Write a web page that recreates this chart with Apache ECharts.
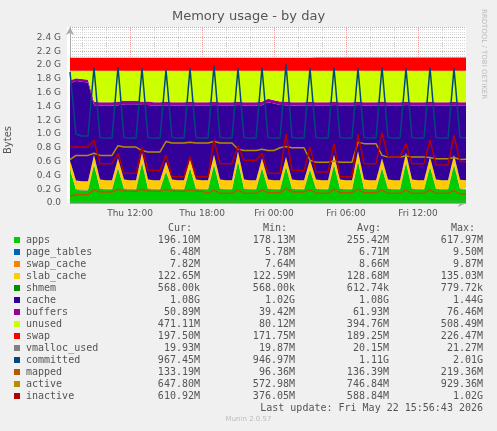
<!DOCTYPE html>
<html>
<head>
<meta charset="utf-8">
<script src="https://cdn.jsdelivr.net/npm/echarts@6/dist/echarts.min.js"></script>
<style>
html,body{margin:0;padding:0;background:#f0f0f0;}
#main{width:497px;height:431px;}
</style>
</head>
<body>
<div id="main"></div>
<script>
// hours since Thu 00:00, 30 min steps, Thu 07:00 .. Fri 16:00
var hours = [];
for (var i = 0; i < 67; i++) hours.push(7 + i * 0.5);

// values in G
var apps = [0.48,0.19,0.18,0.18, 0.55,0.2,0.19,0.19, 0.5,0.2,0.19,0.19, 0.58,0.2,0.19,0.19,
  0.45,0.2,0.19,0.19, 0.5,0.2,0.19,0.19, 0.55,0.2,0.19,0.19, 0.6,0.2,0.19,0.19,
  0.5,0.2,0.19,0.19, 0.52,0.2,0.19,0.19, 0.48,0.2,0.19,0.19, 0.55,0.2,0.19,0.19,
  0.6,0.2,0.19,0.19, 0.5,0.2,0.19,0.19, 0.58,0.2,0.19,0.19, 0.52,0.2,0.19,0.19, 0.55,0.2,0.196];
var pageTables = [0.0056,0.0058,0.006,0.006, 0.008,0.0064,0.0063,0.0063, 0.008,0.0064,0.0063,0.0063, 0.009,0.0064,0.0063,0.0063,
  0.008,0.0064,0.0063,0.0063, 0.008,0.0064,0.0063,0.0063, 0.009,0.0064,0.0063,0.0063, 0.009,0.0064,0.0063,0.0063,
  0.008,0.0064,0.0063,0.0063, 0.008,0.0064,0.0063,0.0063, 0.008,0.0064,0.0063,0.0063, 0.009,0.0064,0.0063,0.0063,
  0.009,0.0064,0.0063,0.0063, 0.008,0.0064,0.0063,0.0063, 0.009,0.0064,0.0063,0.0063, 0.008,0.0064,0.0063,0.0063, 0.009,0.0064,0.0063];
var swapCache = [0.0085,0.0085,0.0085,0.0085, 0.0085,0.0085,0.0085,0.0085, 0.0085,0.0085,0.0085,0.0085, 0.0085,0.0085,0.0085,0.0085,
  0.0085,0.0085,0.0085,0.0085, 0.0085,0.0085,0.0085,0.0085, 0.0085,0.0085,0.0085,0.0085, 0.0085,0.0085,0.0085,0.0085,
  0.0085,0.0085,0.0085,0.0085, 0.0085,0.0085,0.0085,0.0085, 0.0085,0.0085,0.0085,0.0085, 0.0085,0.0085,0.0085,0.0085,
  0.0085,0.0085,0.0085,0.0085, 0.0085,0.0085,0.0085,0.0085, 0.0085,0.0085,0.0085,0.0085, 0.0076,0.0076,0.0076,0.0076, 0.0076,0.0076,0.0076];
var slabCache = [0.12,0.121,0.121,0.121, 0.13,0.126,0.125,0.125, 0.13,0.126,0.125,0.125, 0.13,0.126,0.125,0.125,
  0.13,0.126,0.125,0.125, 0.13,0.126,0.125,0.125, 0.13,0.126,0.125,0.125, 0.13,0.126,0.125,0.125,
  0.13,0.126,0.125,0.125, 0.13,0.126,0.125,0.125, 0.13,0.126,0.125,0.125, 0.13,0.126,0.125,0.125,
  0.13,0.126,0.125,0.125, 0.13,0.126,0.125,0.125, 0.13,0.126,0.125,0.125, 0.13,0.126,0.125,0.125, 0.13,0.124,0.12];
var shmem = [0.0006,0.0006,0.0006,0.0006, 0.0006,0.0006,0.0006,0.0006, 0.0006,0.0006,0.0006,0.0006, 0.0006,0.0006,0.0006,0.0006,
  0.0006,0.0006,0.0006,0.0006, 0.0006,0.0006,0.0006,0.0006, 0.0006,0.0006,0.0006,0.0006, 0.0006,0.0006,0.0006,0.0006,
  0.0006,0.0006,0.0006,0.0006, 0.0006,0.0006,0.0006,0.0006, 0.0006,0.0006,0.0006,0.0006, 0.0006,0.0006,0.0006,0.0006,
  0.0006,0.0006,0.0006,0.0006, 0.0006,0.0006,0.0006,0.0006, 0.0006,0.0006,0.0006,0.0006, 0.0006,0.0006,0.0006,0.0006, 0.0006,0.0006,0.0006];
var cache = [1.12,1.44,1.44,1.43, 0.72,1.07,1.08,1.08, 0.77,1.09,1.1,1.1, 0.69,1.08,1.08,1.08,
  0.82,1.07,1.08,1.08, 0.77,1.07,1.08,1.08, 0.72,1.07,1.08,1.08, 0.67,1.07,1.08,1.08,
  0.77,1.12,1.11,1.09, 0.75,1.07,1.08,1.08, 0.79,1.07,1.08,1.08, 0.72,1.07,1.08,1.08,
  0.67,1.07,1.08,1.08, 0.77,1.07,1.08,1.08, 0.69,1.07,1.08,1.08, 0.75,1.07,1.08,1.08, 0.72,1.07,1.08];
var buffers = [0.04,0.04,0.04,0.04, 0.05,0.05,0.05,0.05, 0.05,0.05,0.05,0.05, 0.05,0.05,0.05,0.05,
  0.05,0.05,0.05,0.05, 0.05,0.05,0.05,0.05, 0.05,0.05,0.05,0.05, 0.05,0.05,0.05,0.05,
  0.05,0.05,0.05,0.05, 0.05,0.05,0.05,0.05, 0.05,0.05,0.05,0.05, 0.05,0.05,0.05,0.05,
  0.05,0.05,0.05,0.05, 0.05,0.05,0.05,0.05, 0.05,0.05,0.05,0.05, 0.05,0.05,0.05,0.05, 0.05,0.05,0.05];
var swap = [0.19,0.19,0.19,0.19, 0.19,0.19,0.19,0.19, 0.19,0.19,0.19,0.19, 0.19,0.19,0.19,0.19,
  0.19,0.19,0.19,0.19, 0.19,0.19,0.19,0.19, 0.19,0.19,0.19,0.19, 0.19,0.19,0.19,0.19,
  0.19,0.19,0.19,0.19, 0.19,0.19,0.19,0.19, 0.19,0.193,0.193,0.193, 0.193,0.193,0.193,0.193,
  0.193,0.193,0.193,0.193, 0.193,0.193,0.193,0.193, 0.193,0.193,0.193,0.193, 0.193,0.193,0.193,0.193, 0.193,0.193,0.193];
var totalRam = 1.916;
var vmallocUsed = [0.019,0.019,0.019,0.019, 0.019,0.02,0.02,0.02, 0.02,0.02,0.02,0.02, 0.02,0.02,0.02,0.02,
  0.02,0.02,0.02,0.02, 0.02,0.02,0.02,0.02, 0.02,0.02,0.02,0.02, 0.02,0.02,0.02,0.02,
  0.02,0.02,0.02,0.02, 0.02,0.02,0.02,0.02, 0.02,0.02,0.02,0.02, 0.02,0.02,0.02,0.02,
  0.02,0.02,0.02,0.02, 0.02,0.02,0.02,0.02, 0.02,0.02,0.02,0.02, 0.02,0.02,0.02,0.02, 0.02,0.02,0.02];
var committed = [1.9,1.0,0.97,0.97, 1.96,0.95,0.94,0.94, 1.97,0.95,0.94,0.94, 1.95,0.95,0.94,0.94,
  1.93,0.95,0.94,0.94, 1.95,0.95,0.94,0.94, 1.99,0.95,0.94,0.94, 1.95,0.95,0.94,0.94,
  1.96,0.95,0.94,0.94, 2.01,0.95,0.94,0.94, 1.95,0.95,0.94,0.94, 1.96,0.95,0.94,0.94,
  1.95,0.95,0.94,0.94, 1.97,0.95,0.94,0.94, 1.95,0.95,0.94,0.94, 1.96,0.95,0.94,0.94, 1.95,0.95,0.945];
var mapped = [0.1,0.12,0.12,0.12, 0.19,0.16,0.16,0.16, 0.2,0.17,0.17,0.17, 0.2,0.17,0.17,0.17,
  0.2,0.17,0.17,0.17, 0.19,0.17,0.17,0.14, 0.19,0.14,0.14,0.14, 0.19,0.14,0.14,0.14,
  0.19,0.15,0.15,0.15, 0.21,0.16,0.16,0.16, 0.19,0.15,0.14,0.14, 0.2,0.15,0.15,0.15,
  0.2,0.15,0.15,0.15, 0.19,0.14,0.14,0.14, 0.19,0.14,0.14,0.14, 0.19,0.14,0.14,0.14, 0.18,0.13,0.13];
var active = [0.63,0.69,0.69,0.69, 0.72,0.69,0.69,0.69, 0.83,0.81,0.81,0.81, 0.76,0.74,0.74,0.74,
  0.89,0.87,0.87,0.87, 0.88,0.87,0.87,0.87, 0.89,0.87,0.87,0.87, 0.78,0.76,0.76,0.76,
  0.78,0.76,0.76,0.8, 0.82,0.8,0.8,0.8, 0.62,0.59,0.59,0.59, 0.61,0.59,0.59,0.59,
  0.88,0.86,0.86,0.86, 0.69,0.665,0.665,0.665, 0.68,0.665,0.665,0.665, 0.66,0.64,0.64,0.64, 0.66,0.63,0.633];
var inactive = [0.81,0.81,0.81,0.81, 0.91,0.57,0.57,0.57, 0.72,0.43,0.43,0.43, 0.81,0.47,0.47,0.47,
  0.69,0.38,0.38,0.38, 0.67,0.38,0.38,0.38, 0.91,0.57,0.57,0.57, 0.83,0.62,0.62,0.62,
  0.72,0.43,0.43,0.43, 1.0,0.47,0.47,0.47, 0.81,0.45,0.45,0.45, 0.86,0.38,0.38,0.38,
  1.0,0.57,0.57,0.57, 1.02,0.665,0.665,0.665, 0.86,0.57,0.57,0.57, 0.91,0.55,0.55,0.55, 0.98,0.6,0.597];

// unused = RAM minus everything stacked below it
var unused = hours.map(function (h, i) {
  return +(totalRam - apps[i] - pageTables[i] - swapCache[i] - slabCache[i] - shmem[i] - cache[i] - buffers[i]).toFixed(4);
});

var legendRows = [
  ['apps', '#00cc00', '196.10M', '178.13M', '255.42M', '617.97M'],
  ['page_tables', '#0066b3', '6.48M', '5.78M', '6.71M', '9.50M'],
  ['swap_cache', '#ff8000', '7.82M', '7.64M', '8.66M', '9.87M'],
  ['slab_cache', '#ffcc00', '122.65M', '122.59M', '128.68M', '135.03M'],
  ['shmem', '#008f00', '568.00k', '568.00k', '612.74k', '779.72k'],
  ['cache', '#330099', '1.08G', '1.02G', '1.08G', '1.44G'],
  ['buffers', '#990099', '50.89M', '39.42M', '61.93M', '76.46M'],
  ['unused', '#ccff00', '471.11M', '80.12M', '394.76M', '508.49M'],
  ['swap', '#ff0000', '197.50M', '171.75M', '189.25M', '226.47M'],
  ['vmalloc_used', '#808080', '19.93M', '19.87M', '20.15M', '21.27M'],
  ['committed', '#00487d', '967.45M', '946.97M', '1.11G', '2.01G'],
  ['mapped', '#b35a00', '133.19M', '96.36M', '136.39M', '219.36M'],
  ['active', '#b38f00', '647.80M', '572.98M', '746.84M', '929.36M'],
  ['inactive', '#b30000', '610.92M', '376.05M', '588.84M', '1.02G']
];

var stackData = [apps, pageTables, swapCache, slabCache, shmem, cache, buffers, unused, swap];
var lineData = [vmallocUsed, committed, mapped, active, inactive];
var gridHours = [8, 10, 12, 14, 16, 18, 20, 22, 24, 26, 28, 30, 32, 34, 36, 38];
var labelHours = [12, 18, 24, 30, 36];

var series = [];
// vertical grid lines, under the areas
series.push({
  type: 'line', data: [], z: 1,
  markLine: {
    silent: true, symbol: 'none', label: { show: false }, z: 1,
    data: gridHours.map(function (h) {
      return { xAxis: hours.indexOf(h), lineStyle: { color: h % 6 === 0 ? '#e8a0a0' : '#d0d0d0', type: 'dotted', width: 1 } };
    })
  }
});
stackData.forEach(function (arr, k) {
  series.push({
    name: legendRows[k][0], type: 'line', stack: 'mem', data: arr,
    symbol: 'none', lineStyle: { width: 0 }, areaStyle: { color: legendRows[k][1], opacity: 1 },
    itemStyle: { color: legendRows[k][1] }, z: 2
  });
});
lineData.forEach(function (arr, k) {
  var row = legendRows[9 + k];
  series.push({
    name: row[0], type: 'line', data: arr, symbol: 'none',
    lineStyle: { width: 1.5, color: row[1] }, itemStyle: { color: row[1] }, z: 3
  });
});

var graphics = [
  { type: 'rect', z: -1, shape: { x: 67, y: 27, width: 3, height: 176 }, style: { fill: '#fff' } },
  { type: 'text', left: 'center', top: 10, style: { text: 'Memory usage - by day', font: '13px DejaVu Sans', fill: '#555' } },
  { type: 'text', x: 3, y: 140, rotation: Math.PI / 2, style: { text: 'Bytes', font: '10px DejaVu Sans', fill: '#555', align: 'center' } },
  { type: 'text', x: 484, y: 54, rotation: -Math.PI / 2, style: { text: 'RRDTOOL / TOBI OETIKER', font: '7px DejaVu Sans', fill: '#bbb', align: 'center', verticalAlign: 'middle' } }
];
var mono = '10px DejaVu Sans Mono';
var cols = [200, 295, 389, 483];
['Cur:', 'Min:', 'Avg:', 'Max:'].forEach(function (t, c) {
  graphics.push({ type: 'text', x: cols[c] - 8, y: 223, style: { text: t, font: mono, fill: '#555', align: 'right' } });
});
legendRows.forEach(function (r, k) {
  var y = 235 + k * 12;
  graphics.push({ type: 'rect', shape: { x: 14, y: y + 2, width: 6, height: 6 }, style: { fill: r[1] } });
  graphics.push({ type: 'text', x: 26, y: y, style: { text: r[0], font: mono, fill: '#555' } });
  for (var c = 0; c < 4; c++) {
    graphics.push({ type: 'text', x: cols[c], y: y, style: { text: r[2 + c], font: mono, fill: '#555', align: 'right' } });
  }
});
graphics.push({ type: 'text', x: 483, y: 403, style: { text: 'Last update: Fri May 22 15:56:43 2026', font: mono, fill: '#555', align: 'right' } });
graphics.push({ type: 'text', left: 'center', top: 416, style: { text: 'Munin 2.0.57', font: '7px DejaVu Sans', fill: '#bbb' } });

function hourLabel(h) {
  var d = h % 24;
  return (h < 24 ? 'Thu ' : 'Fri ') + (d < 10 ? '0' : '') + d + ':00';
}

var chart = echarts.init(document.getElementById('main'));
chart.setOption({
  backgroundColor: '#f0f0f0',
  animation: false,
  grid: { left: 70, right: 31, top: 27, bottom: 228, backgroundColor: '#fff', show: true, borderWidth: 0 },
  xAxis: {
    type: 'category', boundaryGap: false, data: hours,
    axisLine: { lineStyle: { color: '#aaa' }, symbol: ['none', 'arrow'], symbolSize: [6, 8] },
    axisTick: { show: true, interval: function (i, v) { return gridHours.indexOf(+v) >= 0; }, lineStyle: { color: '#e08080' }, length: 2, inside: true },
    axisLabel: {
      interval: function (i, v) { return labelHours.indexOf(+v) >= 0; },
      color: '#555', fontFamily: 'DejaVu Sans', fontSize: 9, margin: 6,
      formatter: function (v) { return hourLabel(+v); }
    },
    splitLine: { show: false }
  },
  yAxis: {
    type: 'value', min: 0, max: 2.55, interval: 0.2,
    axisLine: { show: true, lineStyle: { color: '#aaa' }, symbol: ['none', 'arrow'], symbolSize: [6, 8] },
    axisTick: { show: false },
    axisLabel: {
      color: '#555', fontFamily: 'DejaVu Sans', fontSize: 9, margin: 9, showMaxLabel: false,
      formatter: function (v) { return v === 0 ? '0.0' : v.toFixed(1) + ' G'; }
    },
    splitLine: { show: true, lineStyle: { color: '#e0a0a0', type: 'dotted' } },
    minorSplitLine: { show: true, lineStyle: { color: '#d8d8d8', type: 'dotted' } }
  },
  series: series,
  graphic: graphics
});
</script>
</body>
</html>
